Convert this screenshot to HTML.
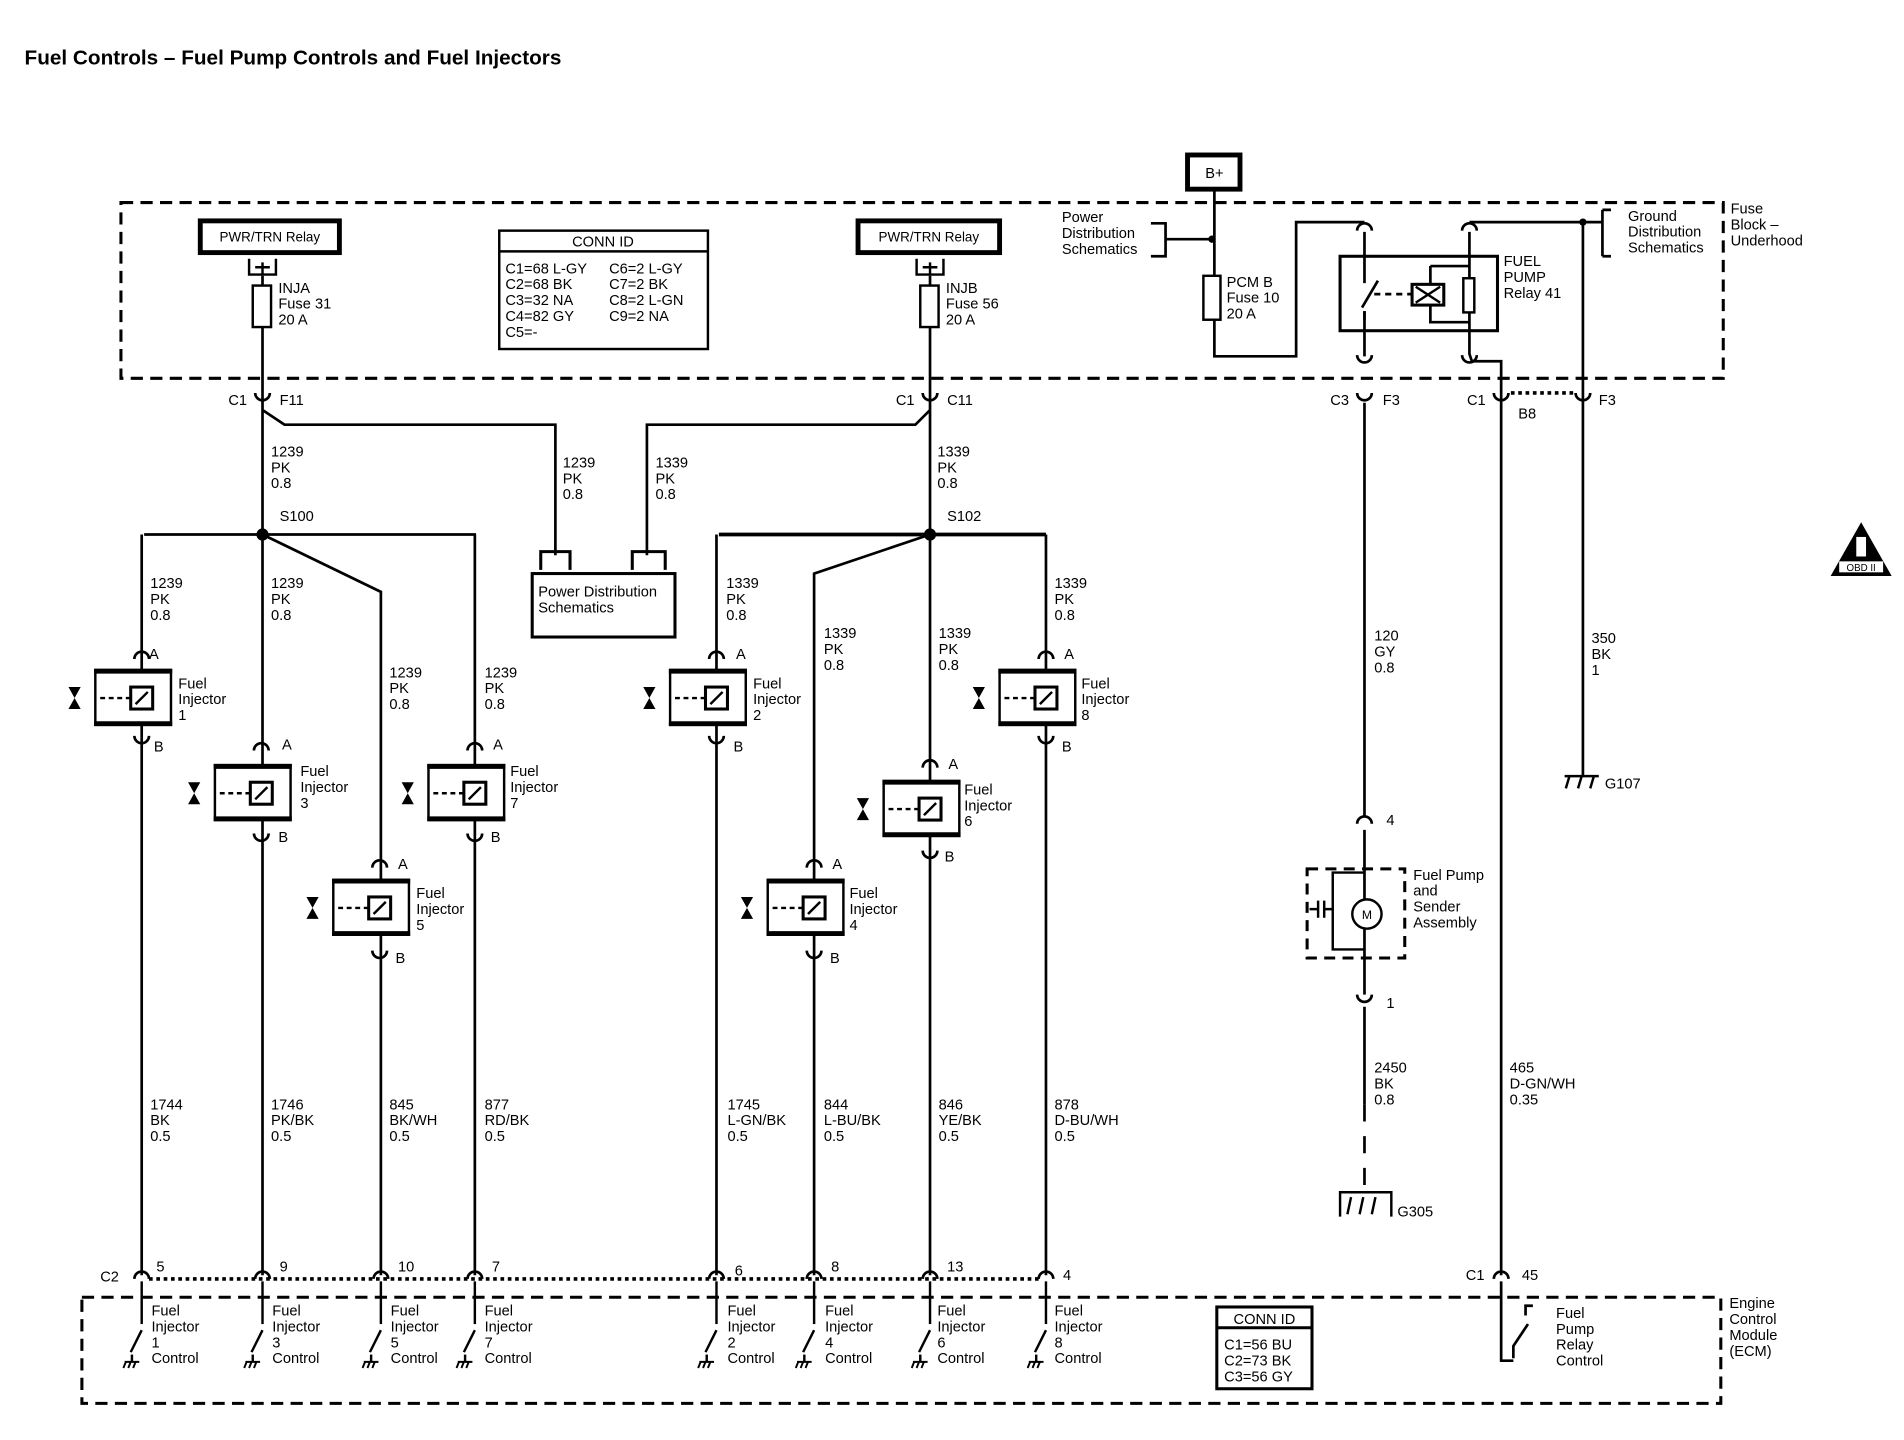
<!DOCTYPE html>
<html><head><meta charset="utf-8"><style>
html,body{margin:0;padding:0;background:#fff;}
svg{display:block;}
text{font-family:"Liberation Sans",sans-serif;font-size:12px;fill:#000;}
</style></head><body>
<svg width="1904" height="1440" viewBox="0 0 1560 1180" xmlns="http://www.w3.org/2000/svg">
<defs>
<g id="inj">
 <rect x="-38" y="0" width="62" height="45" fill="#fff" stroke="#000" stroke-width="2"/>
 <line x1="-39" y1="1" x2="25" y2="1" stroke="#000" stroke-width="4"/>
 <line x1="-39" y1="44" x2="25" y2="44" stroke="#000" stroke-width="4"/>
 <line x1="-34" y1="23" x2="-9" y2="23" stroke="#000" stroke-width="2" stroke-dasharray="4 3"/>
 <rect x="-9" y="14" width="18" height="18" fill="#fff" stroke="#000" stroke-width="2.5"/>
 <line x1="-5" y1="28" x2="5" y2="18" stroke="#000" stroke-width="2"/>
 <polygon points="-60,14 -50,14 -55,23 -60,32 -50,32 -55,23" fill="#000"/>
</g>
<path id="capA" d="M-6,3 A6,6 0 0 1 6,3" fill="none" stroke="#000" stroke-width="2.2"/>
<path id="capB" d="M-6,-3 A6,6 0 0 0 6,-3" fill="none" stroke="#000" stroke-width="2.2"/>
<g id="sw">
 <line x1="0" y1="0" x2="0" y2="35" stroke="#000" stroke-width="2"/>
 <line x1="0" y1="40" x2="-9" y2="58" stroke="#000" stroke-width="2"/>
 <line x1="-8" y1="60" x2="-8" y2="66" stroke="#000" stroke-width="2"/>
 <path d="M-14,66 H-2 M-13,66 l-2,5 M-9,66 l-2,5 M-5,66 l-2,5" stroke="#000" stroke-width="1.6" fill="none"/>
</g>
</defs>

<text x="20" y="53" style="font-size:17px;font-weight:bold">Fuel Controls – Fuel Pump Controls and Fuel Injectors</text>

<!-- dashed boxes -->
<rect x="99" y="166" width="1313" height="144" fill="none" stroke="#000" stroke-width="2.5" stroke-dasharray="10 6"/>
<rect x="67" y="1063" width="1343" height="87" fill="none" stroke="#000" stroke-width="2.5" stroke-dasharray="10 6"/>
<text x="1418" y="175">Fuse</text><text x="1418" y="188">Block –</text><text x="1418" y="201">Underhood</text>
<text x="1417" y="1072">Engine</text><text x="1417" y="1085">Control</text><text x="1417" y="1098">Module</text><text x="1417" y="1111">(ECM)</text>

<g stroke="#000" stroke-width="2.2" fill="none">
<!-- left feed -->
<line x1="215" y1="226" x2="215" y2="438"/>
<path d="M215,336 L233,348 H455 V455"/>
<line x1="118" y1="438" x2="390" y2="438"/>
<path d="M215,438 L312,485 V1045"/>
<line x1="116" y1="438" x2="116" y2="1045"/>
<line x1="215" y1="438" x2="215" y2="1045"/>
<line x1="389" y1="438" x2="389" y2="1045"/>
<!-- mid feed -->
<line x1="762" y1="226" x2="762" y2="1045"/>
<path d="M762,336 L750,348 H530 V455"/>
<line x1="589" y1="438" x2="857" y2="438" stroke-width="3"/>
<path d="M762,438 L667,470 V1045"/>
<line x1="587" y1="438" x2="587" y2="1045"/>
<line x1="857" y1="438" x2="857" y2="1045"/>
<!-- right side -->
<path d="M995,155 V292 H1062 V182 H1118"/>
<path d="M1118,190 V232 M1118,255 V292"/>
<path d="M1204,182 H1313"/>
<path d="M1313,172 V210 M1313,172 H1320 M1313,210 H1320"/>
<line x1="1297" y1="182" x2="1297" y2="636"/>
<path d="M1204,190 V228 M1204,256 V290 L1206,296 H1230 V1045"/>
<path d="M1172,218 H1204 M1172,218 V233 M1172,250 V264 H1204"/>
<path d="M1118,330 V670 M1118,680 V715 M1118,785 V815 M1118,825 V905"/>
<path d="M1118,905 V975" stroke-dasharray="14 12"/>
<path d="M943,183 H955 V210 H943 M955,196 H993"/>
<path d="M1129,230 L1116,252" />
<line x1="1126" y1="241" x2="1157" y2="241" stroke-dasharray="5 4"/>
<line x1="1118" y1="255" x2="1118" y2="262"/>
</g>
<circle cx="215" cy="438" r="5"/><circle cx="762" cy="438" r="5"/>
<circle cx="993" cy="196" r="3"/><circle cx="1297" cy="182" r="3"/>
<text x="229" y="427">S100</text><text x="776" y="427">S102</text>

<!-- relays -->
<rect x="164" y="181" width="114" height="26" fill="#fff" stroke="#000" stroke-width="4"/>
<text x="221" y="198" text-anchor="middle" style="font-size:11px">PWR/TRN Relay</text>
<rect x="703" y="181" width="116" height="26" fill="#fff" stroke="#000" stroke-width="4"/>
<text x="761" y="198" text-anchor="middle" style="font-size:11px">PWR/TRN Relay</text>
<path d="M204,212 V225 H226 V212 M215,215 V225 M209,219 H221" fill="none" stroke="#000" stroke-width="2"/>
<path d="M751,212 V225 H773 V212 M762,215 V225 M756,219 H768" fill="none" stroke="#000" stroke-width="2"/>
<rect x="207" y="234" width="15" height="34" fill="#fff" stroke="#000" stroke-width="2"/>
<rect x="754" y="234" width="15" height="34" fill="#fff" stroke="#000" stroke-width="2"/>
<text x="228" y="240">INJA</text><text x="228" y="253">Fuse 31</text><text x="228" y="266">20 A</text>
<text x="775" y="240">INJB</text><text x="775" y="253">Fuse 56</text><text x="775" y="266">20 A</text>

<!-- CONN ID top -->
<rect x="409" y="189" width="171" height="97" fill="#fff" stroke="#000" stroke-width="2"/>
<line x1="409" y1="206" x2="580" y2="206" stroke="#000" stroke-width="2"/>
<text x="494" y="202" text-anchor="middle">CONN ID</text>
<text x="414" y="224">C1=68 L-GY</text><text x="499" y="224">C6=2 L-GY</text>
<text x="414" y="237">C2=68 BK</text><text x="499" y="237">C7=2 BK</text>
<text x="414" y="250">C3=32 NA</text><text x="499" y="250">C8=2 L-GN</text>
<text x="414" y="263">C4=82 GY</text><text x="499" y="263">C9=2 NA</text>
<text x="414" y="276">C5=-</text>

<!-- B+ -->
<rect x="973" y="127" width="43" height="28" fill="#fff" stroke="#000" stroke-width="4"/>
<text x="995" y="146" text-anchor="middle">B+</text>
<text x="870" y="182">Power</text><text x="870" y="195">Distribution</text><text x="870" y="208">Schematics</text>
<rect x="986" y="226" width="14" height="36" fill="#fff" stroke="#000" stroke-width="2"/>
<text x="1005" y="235">PCM B</text><text x="1005" y="248">Fuse 10</text><text x="1005" y="261">20 A</text>
<!-- fuel pump relay -->
<rect x="1098" y="210" width="129" height="61" fill="none" stroke="#000" stroke-width="2.5"/>
<rect x="1157" y="233" width="26" height="17" fill="#fff" stroke="#000" stroke-width="2.5"/>
<path d="M1160,235 L1180,248 M1180,235 L1160,248" stroke="#000" stroke-width="2"/>
<rect x="1199" y="228" width="9" height="28" fill="#fff" stroke="#000" stroke-width="2"/>
<text x="1232" y="218">FUEL</text><text x="1232" y="231">PUMP</text><text x="1232" y="244">Relay 41</text>
<text x="1334" y="181">Ground</text><text x="1334" y="194">Distribution</text><text x="1334" y="207">Schematics</text>

<!-- upper connectors -->
<use href="#capA" x="1118" y="186"/><use href="#capA" x="1204" y="186"/>
<use href="#capB" x="1118" y="294"/><use href="#capB" x="1204" y="294"/>
<use href="#capB" x="215" y="325"/><use href="#capB" x="762" y="325"/>
<use href="#capB" x="1118" y="325"/><use href="#capB" x="1230" y="325"/><use href="#capB" x="1297" y="325"/>
<line x1="1238" y1="322" x2="1290" y2="322" stroke="#000" stroke-width="3" stroke-dasharray="3 3"/>
<text x="187" y="332">C1</text><text x="229" y="332">F11</text>
<text x="734" y="332">C1</text><text x="776" y="332">C11</text>
<text x="1090" y="332">C3</text><text x="1133" y="332">F3</text>
<text x="1202" y="332">C1</text><text x="1244" y="343">B8</text><text x="1310" y="332">F3</text>

<!-- wire labels upper -->
<text x="222" y="374">1239</text><text x="222" y="387">PK</text><text x="222" y="400">0.8</text>
<text x="461" y="383">1239</text><text x="461" y="396">PK</text><text x="461" y="409">0.8</text>
<text x="537" y="383">1339</text><text x="537" y="396">PK</text><text x="537" y="409">0.8</text>
<text x="768" y="374">1339</text><text x="768" y="387">PK</text><text x="768" y="400">0.8</text>

<!-- Power distribution box -->
<path d="M443,467 V452 H467 V467 M518,467 V452 H545 V467" fill="none" stroke="#000" stroke-width="2.5"/>
<rect x="436" y="470" width="117" height="52" fill="#fff" stroke="#000" stroke-width="2.5"/>
<text x="441" y="489">Power Distribution</text><text x="441" y="502">Schematics</text>

<text x="123" y="482">1239</text><text x="123" y="495">PK</text><text x="123" y="508">0.8</text>
<text x="222" y="482">1239</text><text x="222" y="495">PK</text><text x="222" y="508">0.8</text>
<text x="319" y="555">1239</text><text x="319" y="568">PK</text><text x="319" y="581">0.8</text>
<text x="397" y="555">1239</text><text x="397" y="568">PK</text><text x="397" y="581">0.8</text>
<text x="595" y="482">1339</text><text x="595" y="495">PK</text><text x="595" y="508">0.8</text>
<text x="675" y="523">1339</text><text x="675" y="536">PK</text><text x="675" y="549">0.8</text>
<text x="769" y="523">1339</text><text x="769" y="536">PK</text><text x="769" y="549">0.8</text>
<text x="864" y="482">1339</text><text x="864" y="495">PK</text><text x="864" y="508">0.8</text>
<text x="1126" y="525">120</text><text x="1126" y="538">GY</text><text x="1126" y="551">0.8</text>
<text x="1304" y="527">350</text><text x="1304" y="540">BK</text><text x="1304" y="553">1</text>

<!-- injectors -->
<use href="#inj" x="116" y="549"/><use href="#capA" x="116" y="537"/><use href="#capB" x="116" y="606"/>
<text x="122" y="540">A</text><text x="126" y="616">B</text>
<text x="146" y="564">Fuel</text><text x="146" y="577">Injector</text><text x="146" y="590">1</text>

<use href="#inj" x="214" y="627"/><use href="#capA" x="214" y="612"/><use href="#capB" x="214" y="686"/>
<text x="231" y="614">A</text><text x="228" y="690">B</text>
<text x="246" y="636">Fuel</text><text x="246" y="649">Injector</text><text x="246" y="662">3</text>

<use href="#inj" x="311" y="721"/><use href="#capA" x="311" y="708"/><use href="#capB" x="311" y="782"/>
<text x="326" y="712">A</text><text x="324" y="789">B</text>
<text x="341" y="736">Fuel</text><text x="341" y="749">Injector</text><text x="341" y="762">5</text>

<use href="#inj" x="389" y="627"/><use href="#capA" x="389" y="612"/><use href="#capB" x="389" y="686"/>
<text x="404" y="614">A</text><text x="402" y="690">B</text>
<text x="418" y="636">Fuel</text><text x="418" y="649">Injector</text><text x="418" y="662">7</text>

<use href="#inj" x="587" y="549"/><use href="#capA" x="587" y="537"/><use href="#capB" x="587" y="606"/>
<text x="603" y="540">A</text><text x="601" y="616">B</text>
<text x="617" y="564">Fuel</text><text x="617" y="577">Injector</text><text x="617" y="590">2</text>

<use href="#inj" x="667" y="721"/><use href="#capA" x="667" y="708"/><use href="#capB" x="667" y="782"/>
<text x="682" y="712">A</text><text x="680" y="789">B</text>
<text x="696" y="736">Fuel</text><text x="696" y="749">Injector</text><text x="696" y="762">4</text>

<use href="#inj" x="762" y="640"/><use href="#capA" x="762" y="626"/><use href="#capB" x="762" y="700"/>
<text x="777" y="630">A</text><text x="774" y="706">B</text>
<text x="790" y="651">Fuel</text><text x="790" y="664">Injector</text><text x="790" y="677">6</text>

<use href="#inj" x="857" y="549"/><use href="#capA" x="857" y="537"/><use href="#capB" x="857" y="606"/>
<text x="872" y="540">A</text><text x="870" y="616">B</text>
<text x="886" y="564">Fuel</text><text x="886" y="577">Injector</text><text x="886" y="590">8</text>

<!-- fuel pump -->
<use href="#capA" x="1118" y="672"/><text x="1136" y="676">4</text>
<use href="#capB" x="1118" y="818"/><text x="1136" y="826">1</text>
<rect x="1071" y="712" width="80" height="73" fill="none" stroke="#000" stroke-width="2.5" stroke-dasharray="9 6"/>
<path d="M1118,715 H1092 V778 H1118 M1092,745 H1085 M1085,738 V752 M1080,738 V752 M1080,745 H1073" fill="none" stroke="#000" stroke-width="2"/>
<line x1="1118" y1="715" x2="1118" y2="785" stroke="#000" stroke-width="2.2"/>
<circle cx="1120" cy="749" r="12" fill="#fff" stroke="#000" stroke-width="2"/>
<text x="1120" y="753" text-anchor="middle" style="font-size:10px">M</text>
<text x="1158" y="721">Fuel Pump</text><text x="1158" y="734">and</text><text x="1158" y="747">Sender</text><text x="1158" y="760">Assembly</text>
<text x="1126" y="879">2450</text><text x="1126" y="892">BK</text><text x="1126" y="905">0.8</text>
<path d="M1098,997 V977 H1140 V997 M1107,981 l-3,14 M1117,981 l-3,14 M1127,981 l-3,14" fill="none" stroke="#000" stroke-width="2"/>
<text x="1145" y="997">G305</text>
<path d="M1282,636 H1310 M1286,636 l-3,10 M1296,636 l-3,10 M1306,636 l-3,10" fill="none" stroke="#000" stroke-width="2"/>
<text x="1315" y="646">G107</text>
<text x="1237" y="879">465</text><text x="1237" y="892">D-GN/WH</text><text x="1237" y="905">0.35</text>

<!-- lower wire labels -->
<text x="123" y="909">1744</text><text x="123" y="922">BK</text><text x="123" y="935">0.5</text>
<text x="222" y="909">1746</text><text x="222" y="922">PK/BK</text><text x="222" y="935">0.5</text>
<text x="319" y="909">845</text><text x="319" y="922">BK/WH</text><text x="319" y="935">0.5</text>
<text x="397" y="909">877</text><text x="397" y="922">RD/BK</text><text x="397" y="935">0.5</text>
<text x="596" y="909">1745</text><text x="596" y="922">L-GN/BK</text><text x="596" y="935">0.5</text>
<text x="675" y="909">844</text><text x="675" y="922">L-BU/BK</text><text x="675" y="935">0.5</text>
<text x="769" y="909">846</text><text x="769" y="922">YE/BK</text><text x="769" y="935">0.5</text>
<text x="864" y="909">878</text><text x="864" y="922">D-BU/WH</text><text x="864" y="935">0.5</text>

<!-- bottom connectors -->
<line x1="122" y1="1048" x2="851" y2="1048" stroke="#000" stroke-width="3" stroke-dasharray="3 3"/>
<g>
<use href="#capA" x="116" y="1045"/><use href="#capA" x="215" y="1045"/><use href="#capA" x="312" y="1045"/><use href="#capA" x="389" y="1045"/>
<use href="#capA" x="587" y="1045"/><use href="#capA" x="667" y="1045"/><use href="#capA" x="762" y="1045"/><use href="#capA" x="857" y="1045"/><use href="#capA" x="1230" y="1045"/>
</g>
<text x="82" y="1050">C2</text><text x="128" y="1042">5</text><text x="229" y="1042">9</text><text x="326" y="1042">10</text><text x="403" y="1042">7</text>
<text x="602" y="1045">6</text><text x="681" y="1042">8</text><text x="776" y="1042">13</text><text x="871" y="1049">4</text>
<text x="1201" y="1049">C1</text><text x="1247" y="1049">45</text>

<use href="#sw" x="116" y="1050"/><use href="#sw" x="215" y="1050"/><use href="#sw" x="312" y="1050"/><use href="#sw" x="389" y="1050"/>
<use href="#sw" x="587" y="1050"/><use href="#sw" x="667" y="1050"/><use href="#sw" x="762" y="1050"/><use href="#sw" x="857" y="1050"/>
<g style="font-size:12px">
<text x="124" y="1078">Fuel</text><text x="124" y="1091">Injector</text><text x="124" y="1104">1</text><text x="124" y="1117">Control</text>
<text x="223" y="1078">Fuel</text><text x="223" y="1091">Injector</text><text x="223" y="1104">3</text><text x="223" y="1117">Control</text>
<text x="320" y="1078">Fuel</text><text x="320" y="1091">Injector</text><text x="320" y="1104">5</text><text x="320" y="1117">Control</text>
<text x="397" y="1078">Fuel</text><text x="397" y="1091">Injector</text><text x="397" y="1104">7</text><text x="397" y="1117">Control</text>
<text x="596" y="1078">Fuel</text><text x="596" y="1091">Injector</text><text x="596" y="1104">2</text><text x="596" y="1117">Control</text>
<text x="676" y="1078">Fuel</text><text x="676" y="1091">Injector</text><text x="676" y="1104">4</text><text x="676" y="1117">Control</text>
<text x="768" y="1078">Fuel</text><text x="768" y="1091">Injector</text><text x="768" y="1104">6</text><text x="768" y="1117">Control</text>
<text x="864" y="1078">Fuel</text><text x="864" y="1091">Injector</text><text x="864" y="1104">8</text><text x="864" y="1117">Control</text>
</g>
<path d="M1230,1050 V1115 H1240 M1240,1113 V1103 L1252,1085 M1250,1078 V1070 H1256" fill="none" stroke="#000" stroke-width="2.2"/>
<text x="1275" y="1080">Fuel</text><text x="1275" y="1093">Pump</text><text x="1275" y="1106">Relay</text><text x="1275" y="1119">Control</text>

<rect x="997" y="1071" width="78" height="67" fill="#fff" stroke="#000" stroke-width="2.5"/>
<line x1="997" y1="1088" x2="1075" y2="1088" stroke="#000" stroke-width="2.5"/>
<text x="1036" y="1085" text-anchor="middle">CONN ID</text>
<text x="1003" y="1106">C1=56 BU</text><text x="1003" y="1119">C2=73 BK</text><text x="1003" y="1132">C3=56 GY</text>

<!-- OBD II -->
<polygon points="1525,428 1500,472 1550,472" fill="#000"/>
<rect x="1521" y="440" width="8" height="16" fill="#fff"/>
<rect x="1507" y="460" width="36" height="9" fill="#fff"/>
<text x="1525" y="468" text-anchor="middle" style="font-size:8px">OBD II</text>
</svg>
</body></html>
